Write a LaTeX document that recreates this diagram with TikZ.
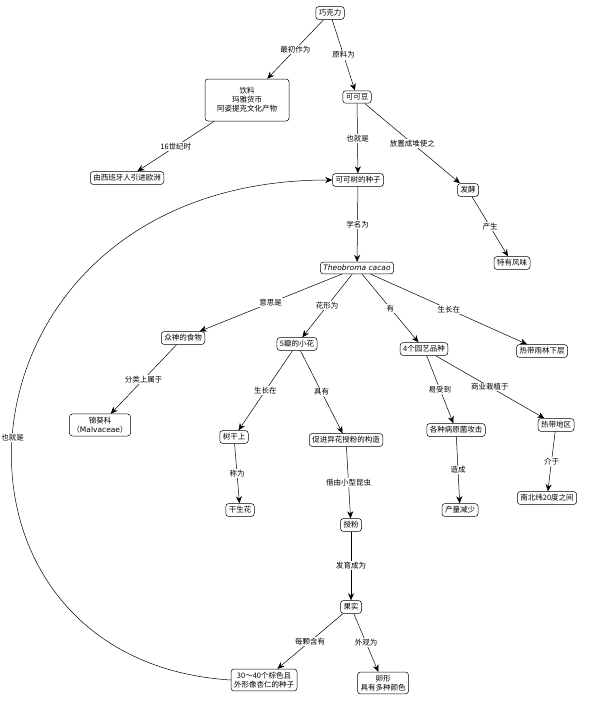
\documentclass[tikz,border=0pt]{standalone}
\usepackage{fontspec}
\setmainfont{Noto Sans CJK SC}
\newfontfamily\lat{DejaVu Sans}
\usetikzlibrary{arrows.meta}
\begin{document}
\begin{tikzpicture}[x=1pt,y=-1pt,
 box/.style={draw,rounded corners=3pt,font=\fontsize{7.5}{9}\selectfont,align=center,inner sep=3pt,fill=white,line width=0.5pt},
 con/.style={-{Stealth[length=7pt,width=6pt]},line width=0.5pt},
 lab/.style={fill=white,font=\fontsize{7.5}{9}\selectfont,inner sep=1pt}]
\useasboundingbox (0,0) rectangle (600,709);
\node[box] (choc) at (330,13) {巧克力};
\node[box,minimum width=84pt,minimum height=42pt] (drink) at (247,100) {饮料\\玛雅货币\\阿姿提克文化产物};
\node[box] (spain) at (127,178) {由西班牙人引进欧洲};
\node[box] (bean) at (357,97) {可可豆};
\node[box] (seed) at (358,180) {可可树的种子};
\node[box] (ferm) at (468,190) {发酵};
\node[box] (flav) at (512,263) {特有风味};
\node[box] (theo) at (357,268) {\lat\itshape\fontsize{7.5}{9}\selectfont Theobroma cacao};
\node[box] (gods) at (183,338) {众神的食物};
\node[box] (flower) at (297,344) {5瓣的小花};
\node[box] (four) at (424,349) {4个园艺品种};
\node[box] (rain) at (542,351) {热带雨林下层};
\node[box] (malv) at (100,425) {锦葵科\\（{\lat\fontsize{7.5}{9}\selectfont Malvaceae}）};
\node[box] (trunk) at (234,437) {树干上};
\node[box] (struct) at (346,440) {促进异花授粉的构造};
\node[box] (path) at (456,430) {各种病原菌攻击};
\node[box] (trop) at (556,425) {热带地区};
\node[box] (cauli) at (240,510) {干生花};
\node[box] (poll) at (351,525) {授粉};
\node[box] (yield) at (460,510) {产量减少};
\node[box] (lat) at (547,498) {南北纬20度之间};
\node[box] (fruit) at (351,607) {果实};
\node[box] (seeds) at (264,680) {30～40个棕色且\\外形像杏仁的种子};
\node[box] (egg) at (383,683) {卵形\\具有多种颜色};
\draw[con] (choc) -- node[lab]{最初作为} (drink);
\draw[con] (choc) -- node[lab]{原料为} (bean);
\draw[con] (drink) -- node[lab]{16世纪时} (spain);
\draw[con] (bean) -- node[lab]{也就是} (seed);
\draw[con] (bean) -- node[lab]{放置成堆使之} (ferm);
\draw[con] (ferm) -- node[lab]{产生} (flav);
\draw[con] (seed) -- node[lab]{学名为} (theo);
\draw[con] (theo) -- node[lab]{意思是} (gods);
\draw[con] (theo) -- node[lab]{花形为} (flower);
\draw[con] (theo) -- node[lab]{有} (four);
\draw[con] (theo) -- node[lab]{生长在} (rain);
\draw[con] (gods) -- node[lab]{分类上属于} (malv);
\draw[con] (flower) -- node[lab]{生长在} (trunk);
\draw[con] (flower) -- node[lab]{具有} (struct);
\draw[con] (four) -- node[lab]{易受到} (path);
\draw[con] (four) -- node[lab]{商业栽植于} (trop);
\draw[con] (trunk) -- node[lab]{称为} (cauli);
\draw[con] (struct) -- node[lab]{借由小型昆虫} (poll);
\draw[con] (path) -- node[lab]{造成} (yield);
\draw[con] (trop) -- node[lab]{介于} (lat);
\draw[con] (poll) -- node[lab]{发育成为} (fruit);
\draw[con] (fruit) -- node[lab]{每颗含有} (seeds);
\draw[con] (fruit) -- node[lab]{外观为} (egg);
\draw[con] (seeds.west) .. controls (-90,660) and (-60,180) .. node[lab,pos=0.48]{也就是} (seed.west);
\end{tikzpicture}
\end{document}
